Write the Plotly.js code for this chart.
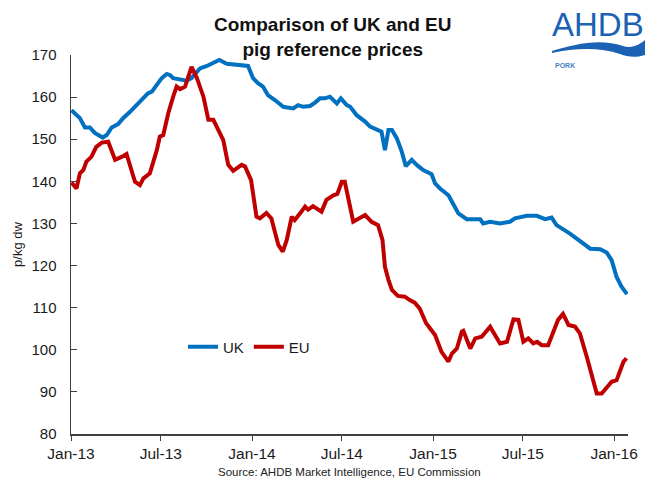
<!DOCTYPE html>
<html>
<head>
<meta charset="utf-8">
<script src="https://cdn.plot.ly/plotly-3.0.1.min.js"></script>
<style>
  html, body { margin: 0; padding: 0; background: #fff; }
  #chart { width: 657px; height: 479px; }
</style>
</head>
<body>
<div id="chart"></div>
<script>
// UK reference price, p/kg dw
const ukDates = [
  '2013-01-02', '2013-01-19', '2013-01-29', '2013-02-08', '2013-02-18', '2013-03-06', '2013-03-14',
  '2013-03-24', '2013-04-06', '2013-04-16', '2013-04-30', '2013-05-13', '2013-05-26', '2013-06-05',
  '2013-06-13', '2013-06-23', '2013-07-03', '2013-07-13', '2013-07-20', '2013-07-26', '2013-08-09',
  '2013-08-22', '2013-09-01', '2013-09-18', '2013-10-02', '2013-10-15', '2013-10-27', '2013-11-11',
  '2013-12-08', '2013-12-24', '2014-01-03', '2014-01-13', '2014-01-23', '2014-02-02', '2014-02-16',
  '2014-03-05', '2014-03-25', '2014-04-04', '2014-04-14', '2014-04-28', '2014-05-08', '2014-05-18',
  '2014-05-28', '2014-06-07', '2014-06-21', '2014-06-29', '2014-07-11', '2014-07-18', '2014-07-31',
  '2014-08-17', '2014-08-27', '2014-09-09', '2014-09-19', '2014-09-26', '2014-10-03', '2014-10-10',
  '2014-10-20', '2014-10-30', '2014-11-07', '2014-11-19', '2014-11-29', '2014-12-12', '2014-12-29',
  '2015-01-05', '2015-01-15', '2015-02-01', '2015-02-11', '2015-02-21', '2015-03-10', '2015-04-06',
  '2015-04-12', '2015-04-26', '2015-05-16', '2015-06-05', '2015-06-15', '2015-07-09', '2015-07-29',
  '2015-08-15', '2015-08-28', '2015-09-07', '2015-10-04', '2015-10-24', '2015-11-14', '2015-12-04',
  '2015-12-17', '2015-12-27', '2016-01-06', '2016-01-16', '2016-01-27'
];
const ukPrices = [
  156.9, 155.0, 152.8, 152.8, 151.5, 150.4, 151.0,
  152.8, 153.6, 155.0, 156.5, 158.1, 159.7, 160.9,
  161.3, 162.9, 164.5, 165.5, 165.2, 164.5, 164.1,
  163.9, 164.5, 166.8, 167.4, 168.2, 168.8, 167.9,
  167.6, 167.4, 164.5, 163.3, 162.5, 160.5, 159.3,
  157.7, 157.3, 158.1, 157.7, 157.9, 158.7, 159.7,
  159.7, 160.1, 158.5, 159.7, 158.1, 157.7, 155.7,
  154.2, 153.0, 152.4, 151.8, 147.4, 152.2, 152.2,
  150.2, 147.0, 143.6, 145.1, 143.9, 142.7, 141.7,
  139.5, 138.3, 136.7, 134.4, 132.4, 131.0, 131.0,
  130.0, 130.4, 130.0, 130.4, 131.2, 131.8, 131.8,
  131.0, 131.4, 129.6, 127.6, 125.7, 124.0, 123.9,
  123.1, 121.3, 117.3, 115.0, 113.2
];

// EU reference price, p/kg dw
const euDates = [
  '2013-01-02', '2013-01-12', '2013-01-19', '2013-01-26', '2013-02-01', '2013-02-11', '2013-02-21',
  '2013-03-04', '2013-03-17', '2013-03-31', '2013-04-13', '2013-04-23', '2013-05-10', '2013-05-20',
  '2013-05-27', '2013-06-09', '2013-06-23', '2013-06-29', '2013-07-06', '2013-07-16', '2013-07-26',
  '2013-08-02', '2013-08-09', '2013-08-19', '2013-09-01', '2013-09-11', '2013-09-25', '2013-10-05',
  '2013-10-15', '2013-10-25', '2013-11-04', '2013-11-14', '2013-11-24', '2013-12-11', '2013-12-18',
  '2013-12-30', '2014-01-10', '2014-01-17', '2014-01-30', '2014-02-09', '2014-02-23', '2014-03-04',
  '2014-03-12', '2014-03-22', '2014-03-28', '2014-04-08', '2014-04-18', '2014-04-24', '2014-05-04',
  '2014-05-21', '2014-05-31', '2014-06-14', '2014-06-22', '2014-07-01', '2014-07-07', '2014-07-24',
  '2014-08-07', '2014-08-17', '2014-08-30', '2014-09-12', '2014-09-21', '2014-09-26', '2014-10-03',
  '2014-10-10', '2014-10-22', '2014-11-05', '2014-11-15', '2014-11-25', '2014-12-05', '2014-12-18',
  '2015-01-05', '2015-01-18', '2015-02-01', '2015-02-08', '2015-02-18', '2015-02-28', '2015-03-03',
  '2015-03-17', '2015-03-27', '2015-04-09', '2015-04-26', '2015-05-16', '2015-05-30', '2015-06-12',
  '2015-06-22', '2015-07-02', '2015-07-12', '2015-07-22', '2015-07-30', '2015-08-08', '2015-08-21',
  '2015-08-31', '2015-09-10', '2015-09-20', '2015-10-01', '2015-10-14', '2015-10-24', '2015-11-07',
  '2015-11-20', '2015-11-27', '2015-12-07', '2015-12-17', '2015-12-27', '2016-01-06', '2016-01-13',
  '2016-01-20', '2016-01-26'
];
const euPrices = [
  139.7, 138.3, 141.9, 142.7, 144.7, 145.8, 148.2,
  149.2, 149.4, 145.1, 145.8, 146.5, 139.9, 139.1,
  140.7, 141.9, 147.4, 150.6, 151.0, 156.1, 160.1,
  162.5, 161.9, 162.5, 167.2, 164.8, 160.1, 154.6,
  154.6, 152.4, 149.8, 143.9, 142.5, 143.9, 143.5,
  140.3, 131.6, 131.2, 132.5, 131.2, 124.9, 123.3,
  126.1, 131.6, 130.8, 132.4, 134.0, 133.3, 134.1,
  132.8, 135.6, 136.7, 137.0, 139.9, 139.9, 130.4,
  131.2, 132.0, 130.4, 129.6, 126.1, 119.7, 116.6,
  114.2, 112.8, 112.6, 111.8, 111.2, 109.8, 106.3,
  103.5, 99.5, 97.2, 99.1, 100.3, 104.3, 104.5,
  100.3, 102.7, 103.1, 105.5, 101.5, 101.9, 107.2,
  107.1, 101.9, 102.7, 101.5, 101.9, 101.1, 101.1,
  104.3, 107.1, 108.5, 105.9, 105.5, 103.9, 98.3,
  92.8, 89.6, 89.6, 91.2, 92.4, 92.8, 94.8,
  97.2, 98.0
];

const UK_BLUE = '#0070c0';
const EU_RED = '#c00000';
const FONT = 'Liberation Sans, Arial, sans-serif';

// plot area in pixels, used to place the title and logo outside it
const M = { l: 71, r: 29, t: 55, b: 45 };
const W = 657, H = 479;
const plotW = W - M.l - M.r, plotH = H - M.t - M.b;
const px = x => (x - M.l) / plotW;
const py = y => (H - M.b - y) / plotH;
const pt = (x, y) => px(x).toFixed(4) + ',' + py(y).toFixed(4);

const wavePath = 'M' + pt(552, 51) +
  ' C' + pt(575, 44) + ' ' + pt(600, 38) + ' ' + pt(623, 46) +
  ' C' + pt(633, 49) + ' ' + pt(640, 44) + ' ' + pt(645, 40) +
  ' L' + pt(645, 55) +
  ' C' + pt(635, 58) + ' ' + pt(628, 57) + ' ' + pt(620, 54) +
  ' C' + pt(600, 47) + ' ' + pt(575, 48) + ' ' + pt(552, 53) + ' Z';

const traces = [
  {
    x: ukDates, y: ukPrices, name: 'UK', type: 'scatter', mode: 'lines',
    line: { color: UK_BLUE, width: 4 }
  },
  {
    x: euDates, y: euPrices, name: 'EU', type: 'scatter', mode: 'lines',
    line: { color: EU_RED, width: 4 }
  }
];

const layout = {
  width: W,
  height: H,
  margin: M,
  paper_bgcolor: '#fff',
  plot_bgcolor: '#fff',
  font: { family: FONT, color: '#1a1a1a' },
  xaxis: {
    type: 'date',
    range: ['2013-01-01', '2016-01-29'],
    tick0: '2013-01-01',
    dtick: 'M6',
    tickformat: '%b-%y',
    showgrid: false,
    zeroline: false,
    showline: true,
    linecolor: '#404040',
    linewidth: 1.5,
    ticks: 'outside',
    ticklen: 5,
    tickcolor: '#404040',
    tickfont: { size: 15.5 },
    ticklabelstandoff: 0
  },
  yaxis: {
    range: [80, 170],
    dtick: 10,
    showgrid: false,
    zeroline: false,
    showline: true,
    linecolor: '#404040',
    linewidth: 1.5,
    ticks: 'inside',
    ticklen: 6,
    tickcolor: '#404040',
    tickfont: { size: 15 },
    ticklabelstandoff: 10,
    title: { text: 'p/kg dw', font: { size: 13 }, standoff: 6 }
  },
  showlegend: true,
  legend: {
    orientation: 'h',
    x: px(183), xanchor: 'left',
    y: py(347), yanchor: 'middle',
    bgcolor: 'rgba(0,0,0,0)',
    font: { size: 15 }
  },
  shapes: [
    {
      type: 'path', xref: 'paper', yref: 'paper', path: wavePath,
      fillcolor: '#1b62b4', line: { width: 0 }, layer: 'above'
    }
  ],
  annotations: [
    {
      text: '<b>Comparison of UK and EU<br>pig reference prices</b>',
      xref: 'paper', yref: 'paper', x: px(333), y: py(12),
      xanchor: 'center', yanchor: 'top', showarrow: false,
      font: { size: 19, color: '#111' }
    },
    {
      text: 'Source: AHDB Market Intelligence, EU Commission',
      xref: 'paper', yref: 'paper', x: px(349), y: py(472),
      xanchor: 'center', yanchor: 'middle', showarrow: false,
      font: { size: 11.5, color: '#222' }
    },
    {
      text: 'AHDB',
      xref: 'paper', yref: 'paper', x: px(598), y: py(24),
      xanchor: 'center', yanchor: 'middle', showarrow: false,
      font: { size: 33, color: '#1b62b4' }
    },
    {
      text: '<b>PORK</b>',
      xref: 'paper', yref: 'paper', x: px(553), y: py(66),
      xanchor: 'left', yanchor: 'middle', showarrow: false,
      font: { size: 7, color: '#4a7fc4' }
    }
  ]
};

Plotly.newPlot('chart', traces, layout, { displayModeBar: false, staticPlot: true });
</script>
</body>
</html>
